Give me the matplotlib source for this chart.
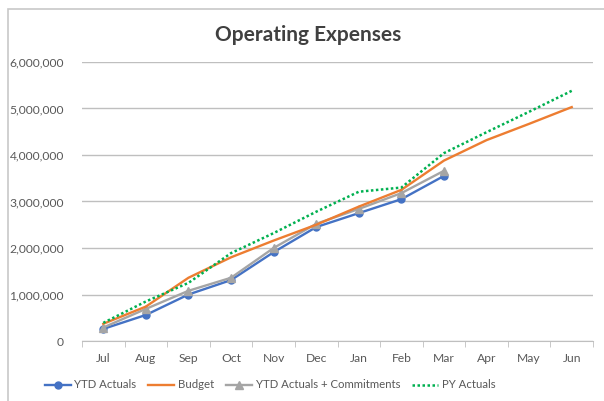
import numpy as np
import matplotlib.pyplot as plt
from matplotlib.patches import Rectangle
from matplotlib.ticker import FuncFormatter

months = ['Jul', 'Aug', 'Sep', 'Oct', 'Nov', 'Dec', 'Jan', 'Feb', 'Mar', 'Apr', 'May', 'Jun']
ytd_actuals = [260000, 560000, 1000000, 1310000, 1910000, 2450000, 2750000, 3050000, 3550000]
budget = [370000, 740000, 1360000, 1800000, 2160000, 2500000, 2890000, 3250000, 3880000, 4320000, 4670000, 5030000]
ytd_commit = [290000, 690000, 1080000, 1360000, 2000000, 2520000, 2840000, 3180000, 3660000]
py_actuals = [390000, 850000, 1250000, 1890000, 2320000, 2780000, 3210000, 3300000, 4040000, 4490000, 4930000, 5380000]

plt.rcParams['font.family'] = ['Lato', 'DejaVu Sans']

fig = plt.figure(figsize=(6.04, 4.01), dpi=100)
ax = fig.add_axes([82/604, 1 - 341/401, (593 - 82)/604, (341 - 62)/401])

# chart frame (extends past right/bottom edge like the screenshot)
fig.patches.append(Rectangle((8/604, -0.05), 1.2, 1 - 9/401 + 0.05, transform=fig.transFigure,
                             fill=False, edgecolor='#C8C8C8', linewidth=1.2))

x = np.arange(len(months))
ax.plot(x[:len(ytd_actuals)], ytd_actuals, color='#4472C4', lw=1.7, marker='o', ms=5, label='YTD Actuals', zorder=3)
ax.plot(x, budget, color='#ED7D31', lw=1.7, label='Budget', zorder=4)
ax.plot(x[:len(ytd_commit)], ytd_commit, color='#A5A5A5', lw=1.7, marker='^', ms=6, label='YTD Actuals + Commitments', zorder=3)
ax.plot(x, py_actuals, color='#00B050', lw=1.8, ls=(0, (1, 1)), label='PY Actuals', zorder=5)

ax.set_xlim(-0.5, 11.5)
ax.set_ylim(0, 6000000)
ax.set_yticks(np.arange(0, 6000001, 1000000))
ax.yaxis.set_major_formatter(FuncFormatter(lambda v, p: f'{int(v):,}'))
ax.set_xticks(x)
ax.set_xticklabels(months)
ax.set_xticks(np.arange(-0.5, 12, 1), minor=True)
ax.tick_params(axis='x', which='major', length=0, pad=9, labelsize=8.7, labelcolor='#595959')
ax.tick_params(axis='x', which='minor', length=4, color='#BFBFBF', direction='out')
ax.tick_params(axis='y', length=0, pad=13, labelsize=8.7, labelcolor='#595959')

ax.grid(axis='y', color='#BFBFBF', lw=1)
ax.set_axisbelow(True)
for s in ['top', 'right', 'left']:
    ax.spines[s].set_visible(False)
ax.spines['bottom'].set_color('#BFBFBF')

fig.text(308/604, 1 - 35/401, 'Operating Expenses', ha='center', va='center',
         fontsize=15, fontweight='bold', color='#404040')

fig.legend(loc='center', bbox_to_anchor=(270/604, 1 - 385/401), ncol=4, frameon=False,
           fontsize=8.2, labelcolor='#595959', handlelength=2.3, columnspacing=1.05, handletextpad=0.3)

fig.savefig('out.png', dpi=100)
